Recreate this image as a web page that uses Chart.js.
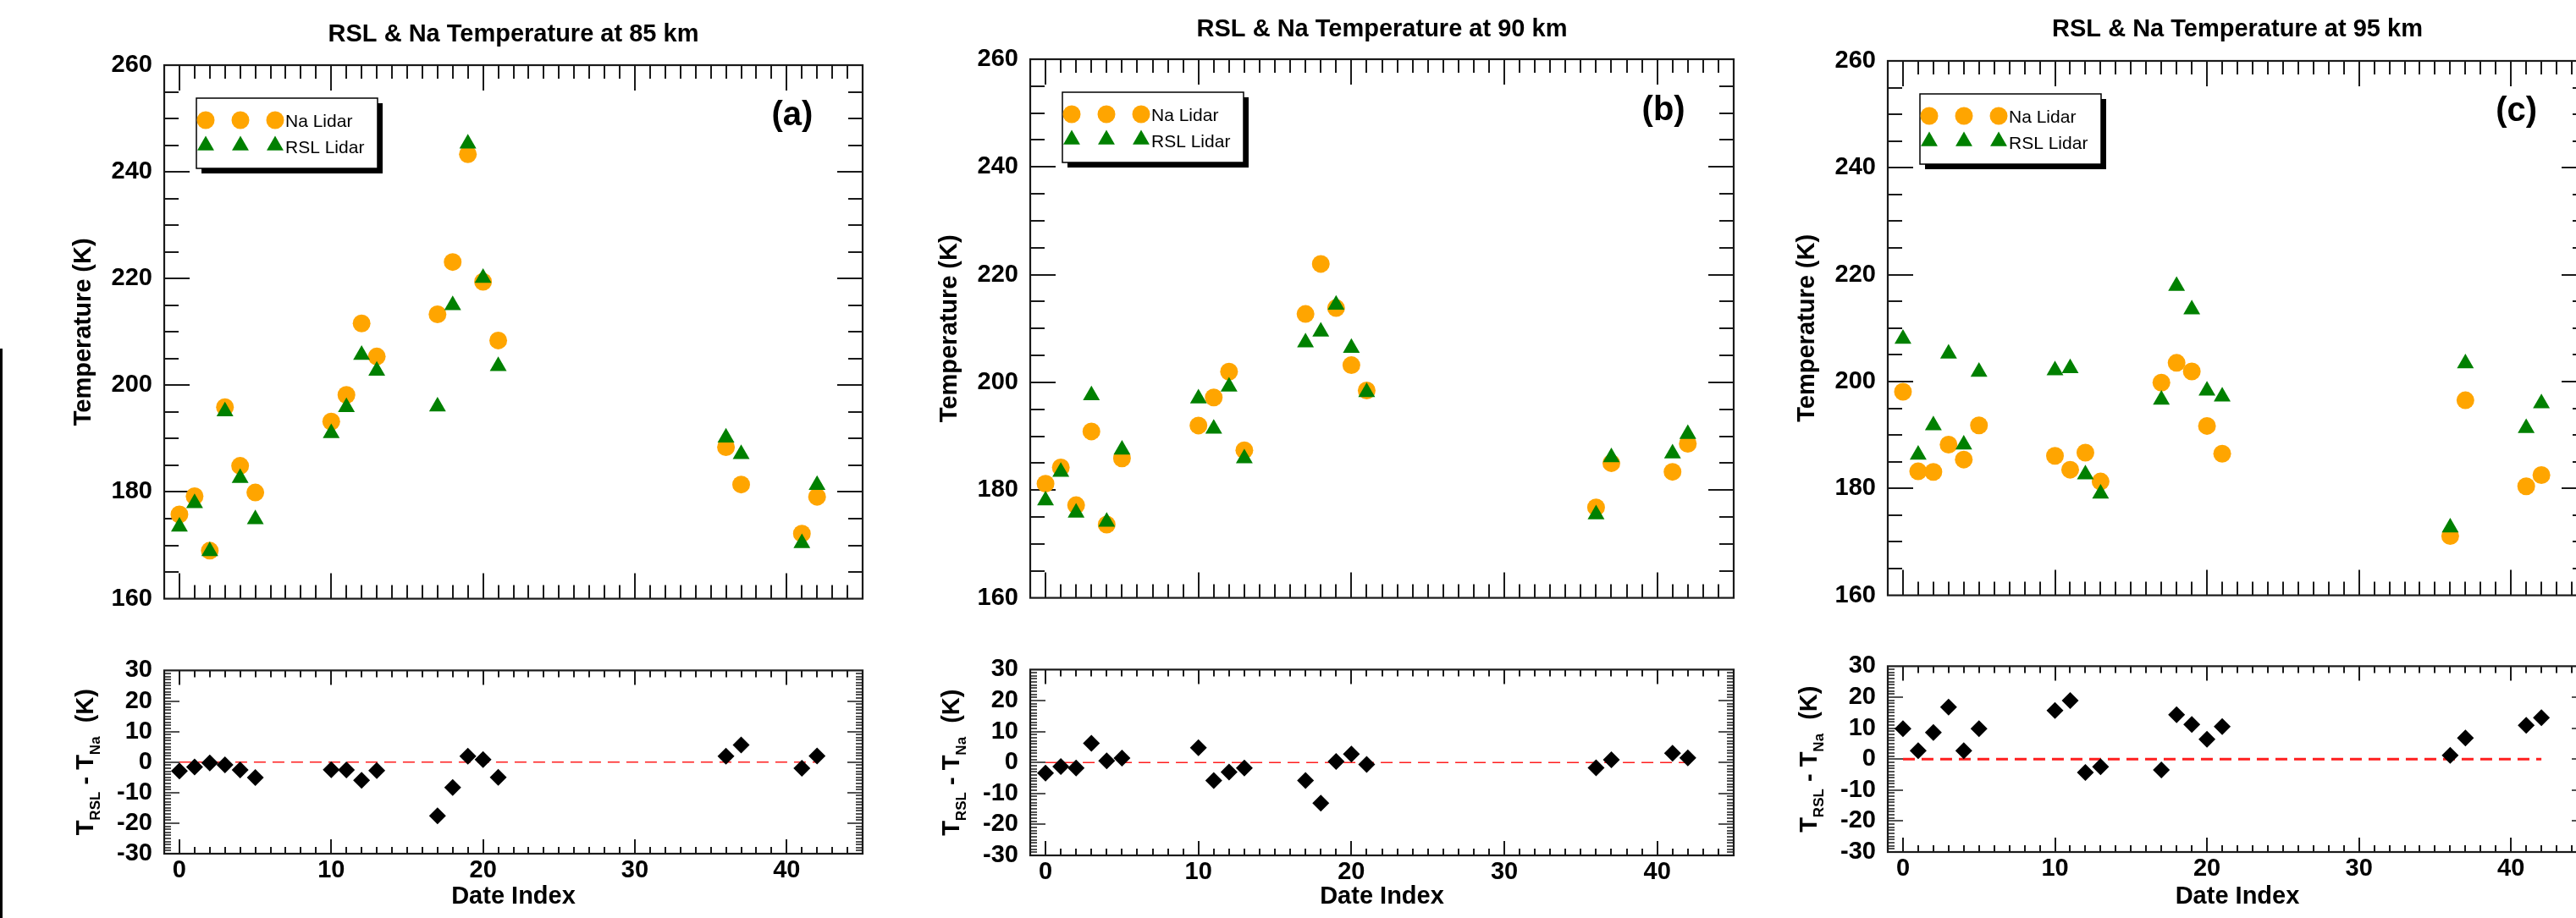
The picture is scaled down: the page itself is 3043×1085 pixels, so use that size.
<!DOCTYPE html>
<html>
<head>
<meta charset="utf-8">
<script src="https://cdn.jsdelivr.net/npm/chart.js@4.4.1/dist/chart.umd.min.js"></script>
<style>
  html, body { margin: 0; padding: 0; background: #fff; overflow: hidden; }
  body { position: relative; width: 3043px; height: 1085px; }
  .cbox { position: absolute; }
  #edge { position: absolute; left: 0; top: 412px; width: 3px; height: 673px; background: #000; }
</style>
</head>
<body>
<div id="edge"></div>
<script>
// date index shared by all three altitudes
const dateIndex = [0, 1, 2, 3, 4, 5, 10, 11, 12, 13, 17, 18, 19, 20, 21, 36, 37, 41, 42];

// 85 km
const na85   = [175.8, 179.2, 169.0, 195.9, 184.9, 179.9, 193.2, 198.2, 211.6, 205.4, 213.3, 223.1, 243.3, 219.4, 208.4, 188.4, 181.4, 172.2, 179.1];
const rsl85  = [173.5, 177.9, 168.9, 195.1, 182.6, 174.9, 191.0, 195.9, 205.7, 202.7, 196.0, 215.0, 245.3, 220.1, 203.6, 190.2, 187.1, 170.4, 181.3];
const diff85 = [-2.9, -1.6, -0.3, -0.9, -2.6, -5.1, -2.5, -2.6, -6.0, -2.8, -17.6, -8.3, 1.9, 0.8, -5.0, 1.9, 5.6, -2.0, 2.0];

// 90 km
const na90   = [181.2, 184.2, 177.2, 190.9, 173.6, 185.9, 192.0, 197.2, 202.0, 187.4, 212.7, 222.0, 213.8, 203.2, 198.5, 176.8, 185.0, 183.4, 188.6];
const rsl90  = [178.1, 183.4, 175.8, 197.6, 174.1, 187.5, 197.0, 191.4, 199.2, 185.9, 207.4, 209.4, 214.4, 206.4, 198.2, 175.5, 186.1, 186.8, 190.4];
const diff90 = [-3.4, -1.3, -1.8, 6.2, 0.5, 1.4, 4.8, -5.8, -3.1, -1.8, -5.8, -13.1, 0.3, 2.7, -0.6, -1.7, 0.9, 3.0, 1.5];

// 95 km
const na95   = [198.1, 183.2, 183.1, 188.2, 185.4, 191.8, 186.1, 183.5, 186.7, 181.3, 199.8, 203.5, 201.9, 191.7, 186.5, 171.1, 196.5, 180.4, 182.5];
const rsl95  = [208.0, 186.3, 191.8, 205.2, 188.2, 201.8, 202.1, 202.5, 182.6, 179.0, 196.6, 217.9, 213.5, 198.3, 197.2, 172.7, 203.4, 191.3, 195.9];
const diff95 = [9.8, 2.7, 8.6, 16.8, 2.7, 9.8, 15.7, 18.9, -4.3, -2.5, -3.5, 14.3, 11.2, 6.4, 10.5, 1.2, 6.8, 10.9, 13.4];

const titles = ['RSL & Na Temperature at 85 km', 'RSL & Na Temperature at 90 km', 'RSL & Na Temperature at 95 km'];
const panelTags = ['(a)', '(b)', '(c)'];
const seriesNames = ['Na Lidar', 'RSL Lidar'];

const naSets = [na85, na90, na95];
const rslSets = [rsl85, rsl90, rsl95];
const diffSets = [diff85, diff90, diff95];

// page layout (plot rectangles in px)
const boxes = [
  { L: 194,  R: 1019, Tu: 77, Bu: 735, Tl: 791, Bl: 1009, titleY: 40.5, zeroW: 1.6 },
  { L: 1217, R: 2048, Tu: 70, Bu: 734, Tl: 790, Bl: 1011, titleY: 34.7, zeroW: 1.6 },
  { L: 2230, R: 3056, Tu: 72, Bu: 731, Tl: 786, Bl: 1007, titleY: 35,   zeroW: 3 }
];

const FAM = "'Liberation Sans', Arial, Helvetica, sans-serif";
Chart.defaults.font.family = FAM;
Chart.defaults.color = '#000';

const ORANGE = 'rgb(255,165,0)';
const GREEN = 'rgb(0,128,0)';
const PL = 130, PR = 20;

const pts = vals => dateIndex.map((d, i) => ({ x: d, y: vals[i] }));

// inward ticks on all four sides + frame
const frameTicks = {
  id: 'frameTicks',
  beforeDatasetsDraw(chart, args, o) {
    const { ctx, chartArea: a, scales: { x, y } } = chart;
    ctx.save();
    ctx.strokeStyle = '#1a1a1a';
    ctx.lineWidth = o.xw;
    ctx.beginPath();
    for (let v = Math.ceil(x.min); v < x.max; v += o.xMinor) {
      if (v <= x.min) continue;
      const px = Math.round(x.getPixelForValue(v));
      const len = v % o.xMajor === 0 ? o.xMajorLen : o.xMinorLen;
      ctx.moveTo(px, a.bottom); ctx.lineTo(px, a.bottom - len);
      ctx.moveTo(px, a.top); ctx.lineTo(px, a.top + len);
    }
    ctx.stroke();
    ctx.lineWidth = o.yw;
    ctx.beginPath();
    for (let v = y.min + o.yMinor; v < y.max - 1e-6; v += o.yMinor) {
      const py = Math.round(y.getPixelForValue(v));
      const major = Math.abs(v % o.yMajor) < 1e-6;
      const len = major ? o.yMajorLen : o.yMinorLen;
      ctx.moveTo(a.left, py); ctx.lineTo(a.left + len, py);
      ctx.moveTo(a.right, py); ctx.lineTo(a.right - len, py);
    }
    ctx.stroke();
    ctx.lineWidth = 2.2;
    ctx.strokeRect(a.left, a.top, a.right - a.left, a.bottom - a.top);
    ctx.restore();
  }
};

function marker(ctx, style, cx, cy, r) {
  ctx.beginPath();
  if (style === 'circle') {
    ctx.arc(cx, cy, r, 0, Math.PI * 2);
  } else {
    const s = r * Math.sqrt(3) / 2;
    ctx.moveTo(cx, cy - r);
    ctx.lineTo(cx + s, cy + r / 2);
    ctx.lineTo(cx - s, cy + r / 2);
    ctx.closePath();
  }
  ctx.fill();
}

// boxed legend with three symbols per entry and a drop shadow
const lidarLegend = {
  id: 'lidarLegend',
  afterDatasetsDraw(chart) {
    const { ctx, chartArea: a } = chart;
    const bx = a.left + 38, by = a.top + 39, bw = 214, bh = 83;
    ctx.save();
    ctx.fillStyle = '#000';
    ctx.fillRect(bx + 6, by + 6, bw, bh);
    ctx.fillStyle = '#fff';
    ctx.fillRect(bx, by, bw, bh);
    ctx.strokeStyle = '#000';
    ctx.lineWidth = 1.5;
    ctx.strokeRect(bx, by, bw, bh);
    [11, 52, 93].forEach(dx => {
      ctx.fillStyle = ORANGE; marker(ctx, 'circle', bx + dx, by + 26, 10.5);
      ctx.fillStyle = GREEN; marker(ctx, 'triangle', bx + dx, by + 56, 11.5);
    });
    ctx.fillStyle = '#000';
    ctx.font = '21px ' + FAM;
    ctx.textAlign = 'left';
    ctx.textBaseline = 'alphabetic';
    ctx.fillText(seriesNames[0], bx + 105, by + 34);
    ctx.fillText(seriesNames[1], bx + 105, by + 65);
    ctx.restore();
  }
};

const panelLabel = {
  id: 'panelLabel',
  afterDatasetsDraw(chart, args, o) {
    const { ctx, scales: { x, y } } = chart;
    ctx.save();
    ctx.fillStyle = '#000';
    ctx.font = 'bold 40px ' + FAM;
    ctx.textAlign = 'left';
    ctx.textBaseline = 'middle';
    ctx.fillText(o.text, x.getPixelForValue(o.x), y.getPixelForValue(o.y));
    ctx.restore();
  }
};

// y title with subscripts: T_RSL - T_Na  (K)
const diffTitle = {
  id: 'diffTitle',
  afterDraw(chart) {
    const { ctx, chartArea: a } = chart;
    const parts = [['T', 0], ['RSL', 1], [' - ', 0], ['T', 0], ['Na', 1], ['  (K)', 0]];
    const big = 'bold 29px ' + FAM, small = 'bold 17px ' + FAM;
    ctx.save();
    let total = 0;
    parts.forEach(p => { ctx.font = p[1] ? small : big; total += ctx.measureText(p[0]).width; });
    ctx.translate(a.left - 84, (a.top + a.bottom) / 2);
    ctx.rotate(-Math.PI / 2);
    ctx.fillStyle = '#000';
    ctx.textAlign = 'left';
    ctx.textBaseline = 'alphabetic';
    let cx = -total / 2;
    parts.forEach(p => {
      ctx.font = p[1] ? small : big;
      ctx.fillText(p[0], cx, p[1] ? 8 : 0);
      cx += ctx.measureText(p[0]).width;
    });
    ctx.restore();
  }
};

function mount(left, top, w, h) {
  const div = document.createElement('div');
  div.className = 'cbox';
  div.style.left = left + 'px';
  div.style.top = top + 'px';
  div.style.width = w + 'px';
  div.style.height = h + 'px';
  const c = document.createElement('canvas');
  c.width = w; c.height = h;
  c.style.width = w + 'px'; c.style.height = h + 'px';
  div.appendChild(c);
  document.body.appendChild(div);
  return c;
}

const tickFont = { size: 29, weight: 'bold' };

boxes.forEach((b, k) => {
  const w = PL + (b.R - b.L) + PR;

  // upper: temperatures
  const upH = b.Bu + 4;
  new Chart(mount(b.L - PL, 0, w, upH), {
    type: 'scatter',
    data: {
      datasets: [
        { label: seriesNames[1], data: pts(rslSets[k]), pointStyle: 'triangle', pointRadius: 11.5, pointHoverRadius: 11.5,
          pointBackgroundColor: GREEN, pointBorderWidth: 0 },
        { label: seriesNames[0], data: pts(naSets[k]), pointStyle: 'circle', pointRadius: 10.5, pointHoverRadius: 10.5,
          pointBackgroundColor: ORANGE, pointBorderWidth: 0 }
      ]
    },
    options: {
      responsive: false, animation: false, events: [], devicePixelRatio: 1,
      layout: { padding: { left: 0, right: PR, top: 0, bottom: 4 }, autoPadding: false },
      plugins: {
        legend: { display: false }, tooltip: { enabled: false },
        title: { display: true, text: titles[k], fullSize: false, color: '#000',
                 font: { size: 29, weight: 'bold', lineHeight: 1.2 },
                 padding: { top: b.titleY - 17.4, bottom: b.Tu - b.titleY - 17.4 } },
        frameTicks: { xMinor: 1, xMajor: 10, xMajorLen: 30, xMinorLen: 16, xw: 2,
                      yMinor: 5, yMajor: 20, yMajorLen: 30, yMinorLen: 17, yw: 2 },
        panelLabel: { text: panelTags[k], x: 39, y: 250.5 }
      },
      scales: {
        x: { type: 'linear', min: -1, max: 45,
             ticks: { display: false, stepSize: 10, includeBounds: false },
             grid: { display: false, drawTicks: false }, border: { display: false },
             afterFit: s => { s.height = 0; } },
        y: { type: 'linear', min: 160, max: 260,
             ticks: { stepSize: 20, font: tickFont, color: '#000', padding: 14, autoSkip: false },
             grid: { display: false, drawTicks: false }, border: { display: false },
             title: { display: true, text: 'Temperature (K)', color: '#000',
                      font: { size: 29, weight: 'bold', lineHeight: 1.2 }, padding: { top: 18, bottom: 0 } },
             afterFit: s => { s.width = PL; } }
      }
    },
    plugins: [frameTicks, lidarLegend, panelLabel]
  });

  // lower: differences
  const loTop = b.Tl - 30;
  new Chart(mount(b.L - PL, loTop, w, 1085 - loTop), {
    type: 'scatter',
    data: {
      datasets: [
        { label: 'diff', data: pts(diffSets[k]), pointStyle: 'rectRot', pointRadius: 10, pointHoverRadius: 10,
          pointBackgroundColor: '#000', pointBorderWidth: 0 },
        { label: 'zero', data: [{ x: dateIndex[0], y: 0 }, { x: dateIndex[dateIndex.length - 1], y: 0 }],
          showLine: true, pointRadius: 0, borderColor: 'rgb(255,30,30)', borderWidth: b.zeroW, borderDash: [14, 8] }
      ]
    },
    options: {
      responsive: false, animation: false, events: [], devicePixelRatio: 1,
      layout: { padding: { left: 0, right: PR, top: 30, bottom: 0 }, autoPadding: false },
      plugins: {
        legend: { display: false }, tooltip: { enabled: false },
        frameTicks: { xMinor: 1, xMajor: 10, xMajorLen: 17, xMinorLen: 8, xw: 2,
                      yMinor: 1, yMajor: 10, yMajorLen: 18, yMinorLen: 8, yw: 1.3 }
      },
      scales: {
        x: { type: 'linear', min: -1, max: 45,
             ticks: { stepSize: 10, includeBounds: false, font: tickFont, color: '#000', padding: 3, maxRotation: 0, autoSkip: false },
             grid: { display: false, drawTicks: false }, border: { display: false },
             title: { display: true, text: 'Date Index', color: '#000',
                      font: { size: 29, weight: 'bold', lineHeight: 1.2 }, padding: { top: 0, bottom: 8 } },
             afterFit: s => { s.height = 1085 - b.Bl; } },
        y: { type: 'linear', min: -30, max: 30,
             ticks: { stepSize: 10, font: tickFont, color: '#000', padding: 14, autoSkip: false },
             grid: { display: false, drawTicks: false }, border: { display: false },
             afterFit: s => { s.width = PL; } }
      }
    },
    plugins: [frameTicks, diffTitle]
  });
});
</script>
</body>
</html>
